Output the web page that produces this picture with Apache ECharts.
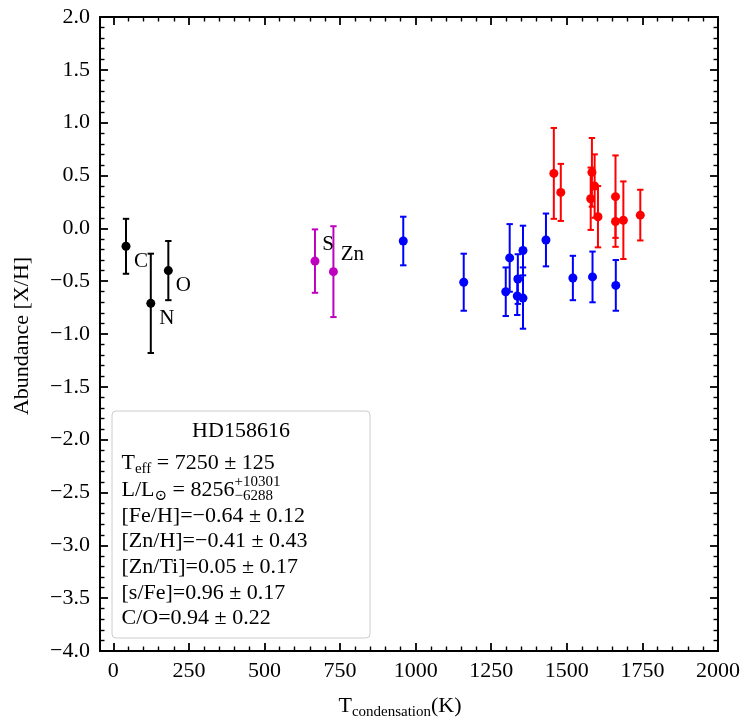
<!DOCTYPE html>
<html><head><meta charset="utf-8">
<script src="https://cdn.jsdelivr.net/npm/echarts@6/dist/echarts.min.js"></script>
<style>html,body{margin:0;padding:0;background:#fff}#c{width:751px;height:725px}</style>
</head><body><div id="c"></div>
<script>
// ---- data ----
const xMajorTicks = [0,250,500,750,1000,1250,1500,1750,2000];
const xMinorTicks = [50,100,150,200,300,350,400,450,550,600,650,700,800,850,900,950,1050,1100,1150,1200,1300,1350,1400,1450,1550,1600,1650,1700,1800,1850,1900,1950];
// [Tcond, abundance, error]
const blackPts = [[42,-0.17,0.26],[124,-0.71,0.47],[182,-0.40,0.28]];
const blackNames = ['C','N','O'];
const magentaPts = [[667,-0.31,0.30],[728,-0.41,0.43]];
const magentaNames = ['S','Zn'];
const bluePts = [[959,-0.12,0.23],[1159,-0.51,0.27],[1298,-0.60,0.23],[1311,-0.28,0.32],[1338,-0.48,0.235],[1336,-0.64,0.18],[1355,-0.21,0.235],[1355,-0.66,0.29],[1431,-0.11,0.25],[1520,-0.47,0.21],[1585,-0.46,0.24],[1662,-0.54,0.24]];
const redPts = [[1457,0.52,0.43],[1480,0.34,0.27],[1583,0.53,0.325],[1579,0.28,0.295],[1592,0.40,0.30],[1603,0.11,0.29],[1661,0.30,0.39],[1661,0.065,0.24],[1687,0.077,0.367],[1743,0.125,0.24]];
const starName = 'HD158616';
const infoLines = [
  [{t:'T'},{t:'eff',sub:true},{t:' = 7250 ± 125'}],
  [{t:'L/L'},{t:'⊙',sub:true},{t:' = 8256'},{t:'+10301',sup:true,stack:true},{t:'−6288',sub:true}],
  [{t:'[Fe/H]=−0.64 ± 0.12'}],
  [{t:'[Zn/H]=−0.41 ± 0.43'}],
  [{t:'[Zn/Ti]=0.05 ± 0.17'}],
  [{t:'[s/Fe]=0.96 ± 0.17'}],
  [{t:'C/O=0.94 ± 0.22'}]
];
const xTitle = [{t:'T'},{t:'condensation',sub:true},{t:'(K)'}];
const yTitle = 'Abundance [X/H]';

// ---- styling ----
const FONT = "'Liberation Serif','DejaVu Serif',serif";
const FS = 22, SFS = 15;
const labelOffsets = {C:[15,15], N:[16,15], O:[15,15], S:[13,-17], Zn:[19,-17]};

const mctx = document.createElement('canvas').getContext('2d');
function tw(text, size){ mctx.font = size + 'px ' + FONT; return mctx.measureText(text).width; }
function partSize(p){ return (p.sub||p.sup) ? SFS : FS; }
function partDy(p){ return p.sub ? 6 : (p.sup ? -8 : 0); }
function runsWidth(parts){ let w=0; parts.forEach(p=>{ if(!p.stack) w += tw(p.t, partSize(p)); }); return w; }
function runs(x0, yc, parts, out){
  let x = x0;
  parts.forEach(p=>{
    const s = partSize(p);
    out.push({type:'text', z:100, silent:true, style:{text:p.t, x:x, y:yc+partDy(p), fontSize:s, fontFamily:FONT, fill:'#000', align:'left', verticalAlign:'middle'}});
    if(!p.stack) x += tw(p.t, s);
  });
}

function errRender(color){
  return function(params, api){
    const x = api.value(0), y = api.value(1), e = api.value(2);
    const p1 = api.coord([x, y+e]), p2 = api.coord([x, y-e]);
    const c = 3.2;
    const st = {stroke:color, lineWidth:2};
    return {type:'group', children:[
      {type:'line', shape:{x1:p1[0],y1:p1[1],x2:p2[0],y2:p2[1]}, style:st},
      {type:'line', shape:{x1:p1[0]-c,y1:p1[1],x2:p1[0]+c,y2:p1[1]}, style:st},
      {type:'line', shape:{x1:p2[0]-c,y1:p2[1],x2:p2[0]+c,y2:p2[1]}, style:st}
    ]};
  };
}
function errSeries(pts, color){
  return {type:'custom', renderItem:errRender(color), data:pts, encode:{x:0,y:1}, z:2, silent:true};
}
function ptSeries(pts, color, names){
  return {type:'scatter', symbolSize:9, z:3, silent:true, itemStyle:{color:color, opacity:1},
    data: pts.map((p,i)=>{
      const d = {value:[p[0],p[1]]};
      if(names){
        const n = names[i];
        d.label = {show:true, formatter:n, position:'inside', offset:labelOffsets[n], color:'#000', fontSize:21, fontFamily:FONT};
      }
      return d;
    })};
}

const lineAx = {show:true, onZero:false, lineStyle:{color:'#000', width:2}};
function xAx(pos, ticks, major, labels){
  return {type:'value', position:pos, min:-44, max:2000,
    axisLine: major ? lineAx : {show:false, onZero:false},
    axisTick:{show:true, inside:true, length: major?8:4.5, customValues:ticks, lineStyle:{color:'#000', width: major?1.8:1.4}},
    axisLabel: labels ? {show:true, customValues:ticks, margin:9, color:'#000', fontSize:FS, fontFamily:FONT, formatter: v => String(v)} : {show:false},
    splitLine:{show:false}};
}
function yAx(pos, labels){
  return {type:'value', position:pos, min:-4, max:2, interval:0.5,
    axisLine: lineAx,
    axisTick:{show:true, inside:true, length:8, lineStyle:{color:'#000', width:1.8}},
    minorTick:{show:true, splitNumber:5, length:4.5, lineStyle:{color:'#000', width:1.4}},
    axisLabel: labels ? {show:true, margin:10, color:'#000', fontSize:FS, fontFamily:FONT,
      formatter: v => (v<0?'−':'') + Math.abs(v).toFixed(1)} : {show:false},
    splitLine:{show:false}, minorSplitLine:{show:false}};
}

// graphics: info box + axis titles
const g = [];
g.push({type:'rect', z:90, silent:true, shape:{x:112, y:411, width:258, height:227, r:4},
  style:{fill:'rgba(255,255,255,0.8)', stroke:'#cccccc', lineWidth:1}});
g.push({type:'text', z:100, silent:true, style:{text:starName, x:241, y:431, fontSize:FS, fontFamily:FONT, fill:'#000', align:'center', verticalAlign:'middle'}});
const lineYs = [463, 490, 516, 541, 567, 593, 618];
infoLines.forEach((parts,i)=>runs(121.5, lineYs[i], parts, g));
runs(400 - runsWidth(xTitle)/2, 706, xTitle, g);
g.push({type:'text', z:100, silent:true, x:22, y:336, rotation:Math.PI/2,
  style:{text:yTitle, x:0, y:0, fontSize:FS, fontFamily:FONT, fill:'#000', align:'center', verticalAlign:'middle'}});

const chart = echarts.init(document.getElementById('c'), null, {renderer:'canvas'});
chart.setOption({
  animation:false,
  backgroundColor:'#fff',
  grid:{left:100, right:33, top:17, bottom:74, outerBoundsMode:'none'},
  xAxis:[xAx('bottom', xMajorTicks, true, true), xAx('bottom', xMinorTicks, false, false),
         xAx('top', xMajorTicks, true, false), xAx('top', xMinorTicks, false, false)],
  yAxis:[yAx('left', true), yAx('right', false)],
  series:[
    errSeries(blackPts,'#000000'), ptSeries(blackPts,'#000000',blackNames),
    errSeries(magentaPts,'#bf00bf'), ptSeries(magentaPts,'#bf00bf',magentaNames),
    errSeries(bluePts,'#0000ff'), ptSeries(bluePts,'#0000ff',null),
    errSeries(redPts,'#ff0000'), ptSeries(redPts,'#ff0000',null)
  ],
  graphic:g
});
</script></body></html>
